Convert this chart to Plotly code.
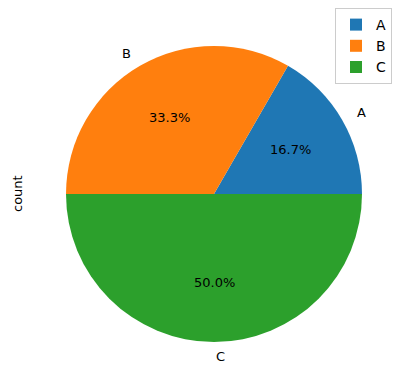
import math
import plotly.graph_objects as go

labels = ["A", "B", "C"]
counts = [1, 2, 3]
colors = ["#1f77b4", "#ff7f0e", "#2ca02c"]
ylabel = "count"

OFF = 8  # default page body margin
W, H = 409 - OFF, 389 - OFF
cx, cy, R = 214 - OFF, 194 - OFF, 148  # pixel geometry of the pie (in figure coords)

fig = go.Figure(go.Pie(
    labels=labels, values=counts, sort=False, direction="counterclockwise",
    rotation=30, textinfo="none", hoverinfo="label+percent",
    marker=dict(colors=colors, line=dict(width=0)),
    domain=dict(x=[(cx - R) / W, (cx + R) / W], y=[1 - (cy + R) / H, 1 - (cy - R) / H]),
))

total = sum(counts)
ann = []
cum = 0
for lab, v in zip(labels, counts):
    mid = 2 * math.pi * (cum + v / 2) / total
    cum += v
    c, s = math.cos(mid), math.sin(mid)
    lx = cx + 1.1 * R * c
    ly = cy - 1.1 * R * s
    ann.append(dict(x=lx / W, y=1 - ly / H, xref="paper", yref="paper", text=lab,
                    showarrow=False, xanchor="left" if c >= -1e-9 else "right", yanchor="middle",
                    font=dict(size=13, color="black")))
    px = cx + 0.6 * R * c
    py = cy - 0.6 * R * s
    ann.append(dict(x=px / W, y=1 - py / H, xref="paper", yref="paper",
                    text=f"{100 * v / total:.1f}%", showarrow=False,
                    xanchor="center", yanchor="middle", font=dict(size=13, color="black")))

ann.append(dict(x=(17 - OFF) / W, y=1 - cy / H, xref="paper", yref="paper", text=ylabel, textangle=-90,
                showarrow=False, xanchor="center", yanchor="middle", font=dict(size=13, color="black")))

fig.update_layout(
    width=W, height=H, margin=dict(l=0, r=0, t=0, b=0),
    paper_bgcolor="white", plot_bgcolor="white",
    font=dict(family="DejaVu Sans", size=13, color="black"),
    annotations=ann,
    legend=dict(x=(392 - OFF) / W, y=1, xanchor="right", yanchor="top",
                bordercolor="#cccccc", borderwidth=1, bgcolor="rgba(255,255,255,0.8)",
                font=dict(size=14), itemwidth=30),
)
fig.write_html("out.html")
